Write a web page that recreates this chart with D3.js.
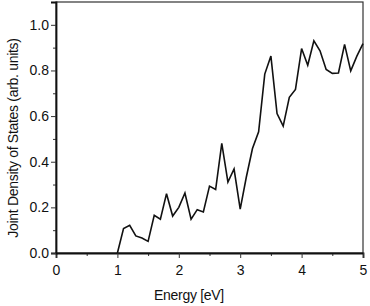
<!DOCTYPE html>
<html>
<head>
<meta charset="utf-8">
<script src="https://cdn.jsdelivr.net/npm/d3@7"></script>
<style>
  body { margin: 0; background: #fff; }
  text { font-family: "Liberation Sans", Arial, sans-serif; fill: #111; }
</style>
</head>
<body>
<div id="graphic"></div>
<script>
var energy = [1.0, 1.1, 1.2, 1.3, 1.4, 1.5, 1.6, 1.7, 1.8, 1.9,
              2.0, 2.1, 2.2, 2.3, 2.4, 2.5, 2.6, 2.7, 2.8, 2.9,
              3.0, 3.1, 3.2, 3.3, 3.4, 3.5, 3.6, 3.7, 3.8, 3.9,
              4.0, 4.1, 4.2, 4.3, 4.4, 4.5, 4.6, 4.7, 4.8, 4.9, 5.0];
var jdos = [0.0, 0.107, 0.121, 0.075, 0.066, 0.051, 0.165, 0.148, 0.26, 0.162,
            0.20, 0.263, 0.148, 0.19, 0.18, 0.293, 0.278, 0.48, 0.311, 0.368,
            0.192, 0.333, 0.458, 0.531, 0.784, 0.863, 0.611, 0.556, 0.682, 0.717,
            0.896, 0.823, 0.93, 0.886, 0.804, 0.787, 0.789, 0.914, 0.798, 0.863, 0.918];
var xTicks = [0, 1, 2, 3, 4, 5];
var xMinor = [0.5, 1.5, 2.5, 3.5, 4.5];
var yTicks = [0.0, 0.2, 0.4, 0.6, 0.8, 1.0];
var yMinor = [0.1, 0.3, 0.5, 0.7, 0.9];

var margin = { top: 2, right: 7, bottom: 53, left: 56 };
var width = 370 - margin.left - margin.right,
    height = 306 - margin.top - margin.bottom;

var svg = d3.select("#graphic").append("svg")
    .attr("width", 370)
    .attr("height", 306)
    .append("g")
    .attr("transform", "translate(" + margin.left + "," + margin.top + ")");

var x = d3.scaleLinear().domain([0, 5]).range([0, width]);
var y = d3.scaleLinear().domain([0, 1.1]).range([height, 0]);

// frame
svg.append("rect")
    .attr("width", width)
    .attr("height", height)
    .attr("fill", "none")
    .attr("stroke", "#333")
    .attr("stroke-width", 1.2);

// minor ticks
svg.append("g")
    .attr("transform", "translate(0," + height + ")")
    .call(d3.axisBottom(x).tickValues(xMinor).tickSize(3).tickFormat(""))
    .call(function (g) { g.select(".domain").remove(); });
svg.append("g")
    .call(d3.axisLeft(y).tickValues(yMinor).tickSize(3).tickFormat(""))
    .call(function (g) { g.select(".domain").remove(); });

// major axes
var xAxis = svg.append("g")
    .attr("transform", "translate(0," + height + ")")
    .call(d3.axisBottom(x).tickValues(xTicks).tickSize(5).tickPadding(7).tickFormat(d3.format("d")));
var yAxis = svg.append("g")
    .call(d3.axisLeft(y).tickValues(yTicks).tickSize(5).tickPadding(2).tickFormat(d3.format(".1f")));

[xAxis, yAxis].forEach(function (g) {
    g.select(".domain").attr("stroke", "#111").attr("stroke-width", 1.8);
    g.selectAll("text").style("font-size", "14px").attr("fill", "#111");
});
svg.selectAll(".tick line").attr("stroke", "#333").attr("stroke-width", 1);

// data line
var line = d3.line()
    .x(function (d, i) { return x(energy[i]); })
    .y(function (d) { return y(d); });

svg.append("path")
    .datum(jdos)
    .attr("fill", "none")
    .attr("stroke", "#111")
    .attr("stroke-width", 1.6)
    .attr("stroke-linejoin", "miter")
    .attr("d", line);

// labels
svg.append("text")
    .attr("x", 133)
    .attr("y", height + 47)
    .attr("text-anchor", "middle")
    .style("font-size", "14px")
    .style("letter-spacing", "-0.3px")
    .text("Energy [eV]");

svg.append("text")
    .attr("transform", "translate(" + (18 - margin.left) + "," + (138 - margin.top) + ") rotate(-90)")
    .attr("text-anchor", "middle")
    .style("font-size", "14px")
    .style("letter-spacing", "-0.3px")
    .text("Joint Density of States (arb. units)");
</script>
</body>
</html>
